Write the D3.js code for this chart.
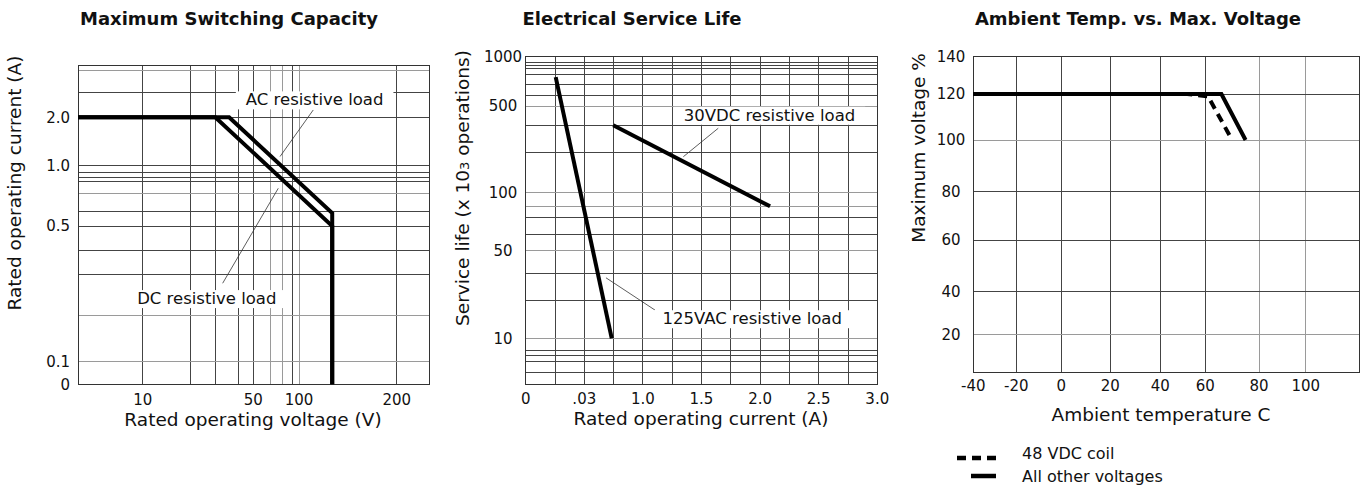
<html><head><meta http-equiv="Content-Type" content="text/html; charset=UTF-8"><title>relay characteristic curves</title>
<script src="https://cdn.jsdelivr.net/npm/d3@7/dist/d3.min.js"></script>
<style>
	body	{ margin:0; background:#fff; }
	text	{ font-family:"DejaVu Sans",sans-serif; fill:#111; }
	.tick	{ font-size:15px; }
	.ttl	{ font-size:18px; font-weight:bold; }
	.axt	{ font-size:18.5px; }
	.note	{ font-size:16.5px; }
</style>
</head><body>
<svg id="fig" width="1364" height="487"></svg>
<script>
// Maximum Switching Capacity (voltage V, current A)
var capAcV=[5,36,134,134], capAcI=[2.0,2.0,0.59,0];
var capDcV=[5,30,134,134], capDcI=[2.0,2.0,0.5,0];
var capXGrid=[10,20,30,40,50,60,70,80,100,200];
var capYGrid=[0.1,0.2,0.3,0.4,0.5,0.6,0.7,0.8,0.9,0.95,1.0,2.0,3.0,5.0];
var capXTicks=[10,50,100,200], capXLabels=['10','50','100','200'];
var capYTicks=[0,0.1,0.5,1.0,2.0], capYLabels=['0','0.1','0.5','1.0','2.0'];
var capNotes=['AC resistive load','DC resistive load'];
var capNoteAt=[[116,2.7],[26.6,0.241]];
var capLeads=[[[114.6,2.29],[67.8,1.19]],[[66.3,0.743],[33.2,0.278]]];

// Electrical Service Life (current A, x10^3 operations)
var lifeAcI=[0.256,0.734], lifeAcN=[750,10];
var lifeDcI=[0.747,2.085], lifeDcN=[350,85];
var lifeXGrid=[0.25,0.5,0.75,1.0,1.25,1.5,1.75,2.0,2.25,2.5,2.75];
var lifeYGrid=[6,7,7.7,8.3,10,20,33,50,61,74,85,100,212,345,500,580,680,780,850,880,920];
var lifeXTicks=[0,0.5,1.0,1.5,2.0,2.5,3.0], lifeXLabels=['0','.03','1.0','1.5','2.0','2.5','3.0'];
var lifeYTicks=[10,50,100,500,1000];
var lifeNotes=['30VDC resistive load','125VAC resistive load'];
var lifeNoteAt=[[2.08,423],[1.933,14.4]];
var lifeLeads=[[[1.643,331],[1.345,195]],[[1.103,16.8],[0.685,30.4]]];

// Ambient Temp. vs. Max. Voltage (deg C, %)
var tempAllT=[-40,66,75], tempAllV=[120,120,100];
var tempDcT=[-40,52,61,70], tempDcV=[120,120,119,100];
var tempXGrid=[-20,0,20,40,60,80,100];
var tempYGrid=[20,40,60,80,100,120];
var tempXTicks=[-40,-20,0,20,40,60,80,100];
var tempYTicks=[20,40,60,80,100,120,140];
var tempLegend=['48 VDC coil','All other voltages'];

// scales (the printed sheet is not evenly ruled, so piecewise)
var capX=d3.scaleLinear().domain([5,10,20,30,40,50,60,70,80,100,200,250])
	.range([78,142.7,190.3,215.3,238.3,253.3,270.7,282.7,292.3,299,396.7,429.3]);
var capY=d3.scaleLinear().domain([0,0.1,0.2,0.3,0.4,0.5,0.6,0.7,0.8,0.9,0.95,1.0,2.0,3.0,5.0,6.0])
	.range([384.3,361.7,315,274.3,250.7,226,211.7,193.3,181.7,177.3,172.3,165.7,117.3,92,70,65.7]);
var lifeX=d3.scaleLinear().domain([0,3]).range([525.7,877.3]);
var lifeY=d3.scaleLog().domain([5,10,50,100,500,1000]).range([384.3,338.3,250.7,192.7,106,56.7]);
var tempX=d3.scaleLinear().domain([-40,-20,0,20,40,60,80,100,120])
	.range([973.3,1016.3,1061.3,1110.3,1160.3,1205.3,1259,1305.7,1359]);
var tempY=d3.scaleLinear().domain([0,20,40,60,80,100,120,140])
	.range([372.3,334.7,291.7,240,191.7,140,94,56.7]);

var capXLight=[60,70,100], capYLight=[5.0,0.7,0.2,0.1];
var lifeXLight=[], lifeYLight=[500,100,85,50,10];
var tempXLight=[80,100], tempYLight=[100,20];

var svg=d3.select('#fig');
svg.append('rect').attr('width',1364).attr('height',487).attr('fill','#fff');

function first(s){ return s.range()[0]; }
function last(s){ var r=s.range(); return r[r.length-1]; }

function grid(g,x,y,xs,ys,xl,yl){
	g.append('g').selectAll('line').data(xs).enter().append('line')
		.attr('x1',function(d){return x(d);}).attr('x2',function(d){return x(d);})
		.attr('y1',first(y)).attr('y2',last(y))
		.attr('stroke',function(d){return xl.indexOf(d)>=0?'#9a9a9a':'#444';})
		.attr('shape-rendering','crispEdges');
	g.append('g').selectAll('line').data(ys).enter().append('line')
		.attr('y1',function(d){return y(d);}).attr('y2',function(d){return y(d);})
		.attr('x1',first(x)).attr('x2',last(x))
		.attr('stroke',function(d){return yl.indexOf(d)>=0?'#9a9a9a':'#444';})
		.attr('shape-rendering','crispEdges');
	g.append('rect').attr('x',first(x)).attr('y',last(y))
		.attr('width',last(x)-first(x)).attr('height',first(y)-last(y))
		.attr('fill','none').attr('stroke','#333').attr('shape-rendering','crispEdges');
}

function ticks(g,x,y,xt,xlab,xLabY,yt,ylab,yLabX,anchor){
	g.append('g').selectAll('text').data(xt).enter().append('text').attr('class','tick')
		.attr('x',function(d){return x(d);}).attr('y',xLabY).attr('dy','0.35em')
		.attr('text-anchor','middle').text(function(d,i){return xlab[i];});
	g.append('g').selectAll('text').data(yt).enter().append('text').attr('class','tick')
		.attr('x',yLabX).attr('y',function(d){return y(d);}).attr('dy','0.35em')
		.attr('text-anchor',anchor).text(function(d,i){return ylab[i];});
}

function notes(g,x,y,txt,at,leads){
	var ln=d3.line().x(function(d){return x(d[0]);}).y(function(d){return y(d[1]);});
	g.append('g').selectAll('path').data(leads).enter().append('path')
		.attr('d',ln).attr('fill','none').attr('stroke','#333').attr('stroke-width',0.8);
	txt.forEach(function(t,i){
		var n=g.append('text').attr('class','note')
			.attr('x',x(at[i][0])).attr('y',y(at[i][1])).attr('dy','0.35em')
			.attr('text-anchor','middle').text(t);
		var b=n.node().getBBox();
		g.insert('rect',function(){return n.node();})
			.attr('x',b.x-10).attr('y',b.y+1).attr('width',b.width+20).attr('height',b.height-1)
			.attr('fill','#fff');
	});
}

function curve(g,x,y,xs,ys,dash){
	var ln=d3.line().x(function(d){return x(d[0]);}).y(function(d){return y(d[1]);});
	return g.append('path').attr('d',ln(d3.zip(xs,ys))).attr('fill','none')
		.attr('stroke','#000').attr('stroke-width',4).attr('stroke-linejoin','miter')
		.attr('stroke-dasharray',dash||null);
}

function titles(t,tx,xt,xtx,xty,yt,ytx,yty){
	svg.append('text').attr('class','ttl').attr('x',tx).attr('y',25).attr('text-anchor','middle').text(t);
	svg.append('text').attr('class','axt').attr('x',xtx).attr('y',xty).attr('text-anchor','middle').text(xt);
	var r=svg.append('text').attr('class','axt').attr('text-anchor','middle')
		.attr('transform','translate('+ytx+','+yty+') rotate(-90)');
	if(typeof yt=='string') r.text(yt);
	else yt.forEach(function(p){ r.append('tspan').style('font-size',p[1]||null).text(p[0]); });
}

// chart 1
var g1=svg.append('g');
grid(g1,capX,capY,capXGrid,capYGrid,capXLight,capYLight);
ticks(g1,capX,capY,capXTicks,capXLabels,400,capYTicks,capYLabels,70,'end');
notes(g1,capX,capY,capNotes,capNoteAt,capLeads);
curve(g1,capX,capY,capAcV,capAcI);
curve(g1,capX,capY,capDcV,capDcI);
titles('Maximum Switching Capacity',229,'Rated operating voltage (V)',253,426,'Rated operating current (A)',21,183);

// chart 2
var g2=svg.append('g');
grid(g2,lifeX,lifeY,lifeXGrid,lifeYGrid,lifeXLight,lifeYLight);
ticks(g2,lifeX,lifeY,lifeXTicks,lifeXLabels,399,lifeYTicks,lifeYTicks.map(String),503,'middle');
notes(g2,lifeX,lifeY,lifeNotes,lifeNoteAt,lifeLeads);
curve(g2,lifeX,lifeY,lifeAcI,lifeAcN);
curve(g2,lifeX,lifeY,lifeDcI,lifeDcN);
titles('Electrical Service Life',632,'Rated operating current (A)',701,425,
	[['Service life (x 10'],['3','13px'],[' operations)']],469,188);

// chart 3
var g3=svg.append('g');
grid(g3,tempX,tempY,tempXGrid,tempYGrid,tempXLight,tempYLight);
ticks(g3,tempX,tempY,tempXTicks,tempXTicks.map(String),386,tempYTicks,tempYTicks.map(String),951,'middle');
curve(g3,tempX,tempY,tempDcT,tempDcV,'9,6');
curve(g3,tempX,tempY,tempAllT,tempAllV);
titles('Ambient Temp. vs. Max. Voltage',1138,'Ambient temperature C',1161,421,'Maximum  voltage %',925,148);

// legend
var lg=svg.append('g').attr('transform','translate(957,458)');
lg.append('line').attr('x1',0).attr('x2',39).attr('stroke','#000').attr('stroke-width',4.5).attr('stroke-dasharray','9,6');
lg.append('line').attr('x1',14).attr('x2',39).attr('y1',18).attr('y2',18).attr('stroke','#000').attr('stroke-width',4.5);
lg.selectAll('text.lab').data(tempLegend).enter().append('text').attr('class','note')
	.style('font-size','16px').attr('x',65).attr('y',function(d,i){return i*23-5;}).attr('dy','0.35em')
	.text(function(d){return d;});
</script>
</body></html>
